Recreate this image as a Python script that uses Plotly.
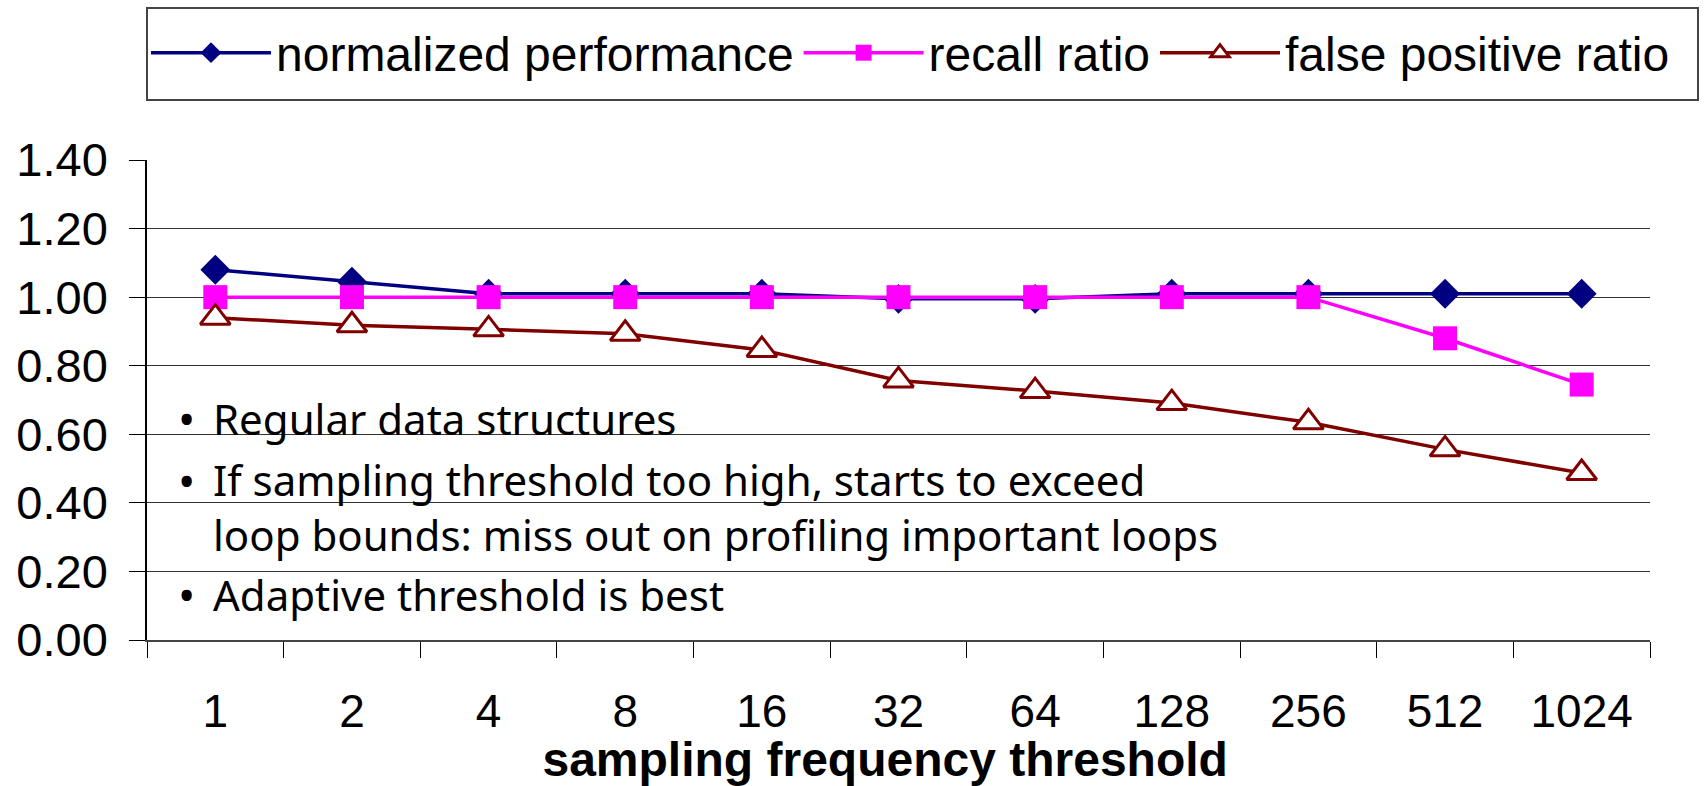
import plotly.graph_objects as go

categories = ["1", "2", "4", "8", "16", "32", "64", "128", "256", "512", "1024"]
normalized_performance = [1.08, 1.045, 1.01, 1.01, 1.01, 0.995, 0.995, 1.01, 1.01, 1.01, 1.01]
recall_ratio = [1.00, 1.00, 1.00, 1.00, 1.00, 1.00, 1.00, 1.00, 1.00, 0.88, 0.745]
false_positive_ratio = [0.94, 0.918, 0.906, 0.893, 0.846, 0.757, 0.726, 0.691, 0.635, 0.556, 0.487]
y_ticks = [0.0, 0.2, 0.4, 0.6, 0.8, 1.0, 1.2, 1.4]
series_names = ["normalized performance", "recall ratio", "false positive ratio"]
notes = [
    (["•"], "Regular data structures", 418),
    (["•", ""], "If sampling threshold too high, starts to exceed<br>loop bounds: miss out on profiling important loops", 507),
    (["•"], "Adaptive threshold is best", 594),
]

W, H = 1705, 786
L, R, T, B = 147, 55, 160, 146
PW, PH = W - L - R, H - T - B
NB = "\u00a0"


def px_x(x):
    return (x - L) / PW


def px_y(y):
    return (H - B - y) / PH


fig = go.Figure()
fig.add_trace(go.Scatter(
    x=categories, y=normalized_performance, name=series_names[0],
    mode="lines+markers",
    line=dict(color="#000080", width=3.5),
    marker=dict(symbol="diamond", size=23, color="#000080"),
))
fig.add_trace(go.Scatter(
    x=categories, y=recall_ratio, name=series_names[1],
    mode="lines+markers",
    line=dict(color="#FF00FF", width=3.5),
    marker=dict(symbol="square", size=24, color="#FF00FF"),
))
fig.add_trace(go.Scatter(
    x=categories, y=false_positive_ratio, name=series_names[2],
    mode="lines+markers",
    line=dict(color="#800000", width=3.5),
    marker=dict(symbol="triangle-up", size=26, color="white",
                line=dict(color="#800000", width=3)),
))

# notes text
for bullets, txt, yy in notes:
    if len(bullets) == 1:
        fig.add_annotation(x=px_x(186), y=px_y(yy), xref="paper", yref="paper",
                           text="•", showarrow=False, xanchor="center", yanchor="middle",
                           font=dict(family="Noto Sans", size=46, color="black"))
    else:
        fig.add_annotation(x=px_x(186), y=px_y(yy - 27), xref="paper", yref="paper",
                           text="•", showarrow=False, xanchor="center", yanchor="middle",
                           font=dict(family="Noto Sans", size=46, color="black"))
    fig.add_annotation(x=px_x(211), y=px_y(yy), xref="paper", yref="paper",
                       text=txt, showarrow=False, xanchor="left", yanchor="middle", align="left",
                       font=dict(family="Noto Sans", size=42, color="black"))

# legend box
fig.add_shape(type="rect", xref="paper", yref="paper",
              x0=px_x(147), x1=px_x(1698), y0=px_y(100), y1=px_y(8),
              line=dict(color="#444444", width=2), fillcolor="rgba(0,0,0,0)", layer="below")

fig.update_layout(
    width=W, height=H,
    margin=dict(l=L, r=R, t=T, b=B, autoexpand=False),
    paper_bgcolor="white", plot_bgcolor="white",
    font=dict(family="Arial, Liberation Sans", color="black"),
    showlegend=True,
    legend=dict(orientation="h", x=px_x(146), y=px_y(53), xanchor="left", yanchor="middle",
                font=dict(family="Arial, Liberation Sans", size=48, color="black"),
                itemwidth=120, bgcolor="rgba(0,0,0,0)", borderwidth=0),
    xaxis=dict(
        type="category", categoryorder="array", categoryarray=categories,
        tickmode="array", tickvals=categories, ticktext=categories,
        tickson="boundaries", ticks="outside", ticklen=16, tickcolor="black", tickwidth=1,
        showline=True, linecolor="#444444", linewidth=2,
        showgrid=False, zeroline=False,
        tickfont=dict(family="Arial, Liberation Sans", size=46, color="black"),
        ticklabelstandoff=30,
        title=dict(text="<b>sampling frequency threshold" + NB * 2 + "</b>", standoff=8,
                   font=dict(family="Arial, Liberation Sans", size=48, color="black")),
        range=[-0.5, 10.5],
    ),
    yaxis=dict(
        range=[0, 1.4], tickmode="array", tickvals=y_ticks,
        ticktext=[f"{v:.2f}" for v in y_ticks],
        ticks="outside", ticklen=16, tickcolor="black", tickwidth=1,
        showgrid=True, gridcolor="#333333", gridwidth=1,
        showline=True, linecolor="black", linewidth=1.5,
        zeroline=False,
        tickfont=dict(family="Arial, Liberation Sans", size=47, color="black"),
        ticklabelstandoff=12,
    ),
)

fig.write_html("out.html")
